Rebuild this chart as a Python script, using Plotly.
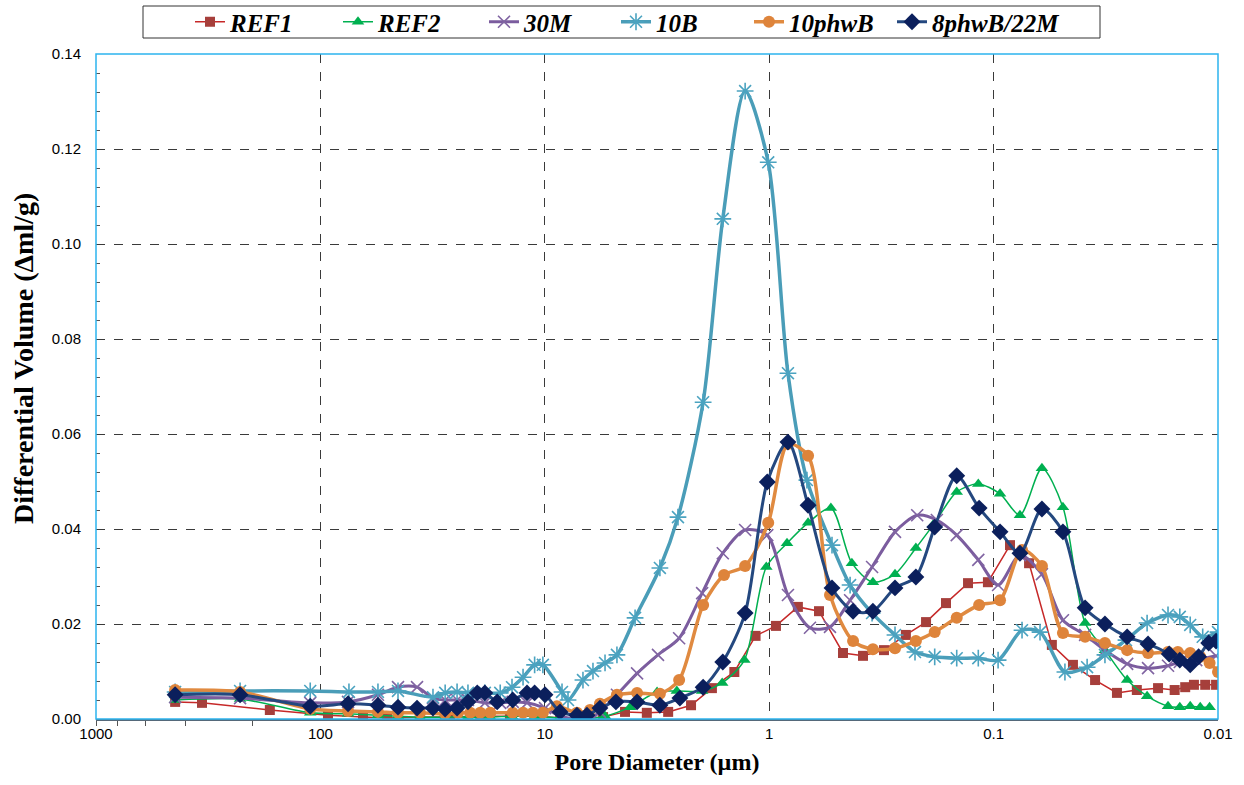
import plotly.graph_objects as go

# Pore diameter (um) and differential intrusion volume (ml/g) per mix
REF1_d = [444, 337, 168, 92.5, 64.6, 50.5, 36.0, 26.4, 19.4, 14.3, 10.5, 8.55, 6.97, 5.50, 4.39, 3.51, 2.82, 2.23, 1.80, 1.43,
          1.15, 0.933, 0.745, 0.600, 0.469, 0.382, 0.308, 0.246, 0.200, 0.163, 0.130, 0.106, 0.0845, 0.0695, 0.0550, 0.0443,
          0.0353, 0.0282, 0.0230, 0.0185, 0.0156, 0.0140, 0.0128, 0.0114, 0.0102]
REF1_v = [0.0036, 0.0034, 0.0019, 0.0008, 0.0004, 0.0002, 0.0004, 0.0004, 0.0006, 0.0006, 0.0006, 0.0002, 0.0000, 0.0004,
          0.0015, 0.0013, 0.0015, 0.0029, 0.0065, 0.0099, 0.0175, 0.0196, 0.0236, 0.0227, 0.0139, 0.0133, 0.0145, 0.0177,
          0.0204, 0.0244, 0.0286, 0.0288, 0.0366, 0.0328, 0.0156, 0.0114, 0.0082, 0.0055, 0.0061, 0.0065, 0.0061, 0.0067,
          0.0072, 0.0072, 0.0072]

REF2_d = [444, 228, 111, 75.3, 55.4, 45.1, 36.0, 27.8, 22.0, 17.5, 14.0, 11.1, 8.55, 6.97, 5.39, 4.17, 3.16, 2.58, 1.99, 1.62,
          1.29, 1.03, 0.833, 0.671, 0.531, 0.428, 0.345, 0.275, 0.222, 0.183, 0.146, 0.117, 0.0936, 0.0763, 0.0609, 0.0491,
          0.0391, 0.0319, 0.0254, 0.0207, 0.0167, 0.0148, 0.0133, 0.0120, 0.0109]
REF2_v = [0.0040, 0.0042, 0.0013, 0.0011, 0.0008, 0.0006, 0.0004, 0.0004, 0.0004, 0.0004, 0.0006, 0.0006, 0.0002, 0.0000,
          0.0006, 0.0025, 0.0057, 0.0059, 0.0059, 0.0076, 0.0124, 0.0320, 0.0370, 0.0413, 0.0444, 0.0328, 0.0288, 0.0305,
          0.0360, 0.0413, 0.0478, 0.0495, 0.0474, 0.0429, 0.0528, 0.0446, 0.0202, 0.0145, 0.0082, 0.0048, 0.0027, 0.0025,
          0.0027, 0.0025, 0.0025]

M30_d = [444, 228, 111, 75.3, 55.4, 45.1, 37.1, 31.5, 27.8, 24.6, 22.0, 18.5, 15.8, 13.9, 12.0, 9.98, 8.55, 7.19, 6.42, 5.68,
         4.77, 3.88, 3.13, 2.52, 1.99, 1.61, 1.28, 1.02, 0.825, 0.658, 0.536, 0.436, 0.348, 0.275, 0.219, 0.179, 0.146,
         0.117, 0.0955, 0.0763, 0.0609, 0.0491, 0.0391, 0.0319, 0.0254, 0.0205, 0.0167, 0.0148, 0.0125, 0.0102]
M30_v = [0.0046, 0.0044, 0.0034, 0.0036, 0.0051, 0.0067, 0.0067, 0.0044, 0.0040, 0.0040, 0.0040, 0.0034, 0.0034, 0.0036,
         0.0034, 0.0023, 0.0006, 0.0000, 0.0000, 0.0015, 0.0051, 0.0096, 0.0135, 0.0170, 0.0265, 0.0349, 0.0398, 0.0387,
         0.0261, 0.0192, 0.0194, 0.0250, 0.0320, 0.0394, 0.0429, 0.0419, 0.0387, 0.0335, 0.0282, 0.0345, 0.0305, 0.0208,
         0.0177, 0.0145, 0.0116, 0.0107, 0.0112, 0.0120, 0.0124, 0.0133]

B10_d = [444, 228, 111, 74.6, 55.4, 45.1, 31.5, 27.8, 24.6, 22.0, 18.5, 15.8, 14.0, 12.5, 11.1, 10.2, 8.38, 7.88, 6.76, 6.10,
         5.39, 4.77, 3.96, 3.07, 2.55, 1.97, 1.61, 1.28, 1.01, 0.825, 0.679, 0.525, 0.436, 0.348, 0.275, 0.224, 0.183,
         0.146, 0.117, 0.0955, 0.0747, 0.0621, 0.0481, 0.0383, 0.0319, 0.0257, 0.0207, 0.0167, 0.0148, 0.0133, 0.0117,
         0.0100]
B10_v = [0.0057, 0.0059, 0.0059, 0.0057, 0.0057, 0.0059, 0.0046, 0.0055, 0.0057, 0.0055, 0.0055, 0.0055, 0.0067, 0.0088,
         0.0114, 0.0114, 0.0057, 0.0040, 0.0082, 0.0101, 0.0118, 0.0135, 0.0213, 0.0318, 0.0425, 0.0667, 0.1053, 0.1322,
         0.1172, 0.0728, 0.0503, 0.0366, 0.0282, 0.0223, 0.0177, 0.0141, 0.0131, 0.0128, 0.0128, 0.0124, 0.0187, 0.0183,
         0.0099, 0.0109, 0.0135, 0.0166, 0.0202, 0.0219, 0.0215, 0.0198, 0.0173, 0.0183]

P10_d = [444, 228, 111, 75.3, 55.4, 45.1, 36.0, 27.8, 24.4, 21.5, 19.4, 17.5, 13.9, 12.5, 11.3, 10.2, 8.83, 7.19, 6.29, 5.68,
         4.77, 3.88, 3.07, 2.52, 1.97, 1.59, 1.28, 1.01, 0.825, 0.671, 0.536, 0.423, 0.345, 0.275, 0.222, 0.183, 0.146,
         0.116, 0.0936, 0.0747, 0.0609, 0.0491, 0.0391, 0.0319, 0.0254, 0.0205, 0.0167, 0.0151, 0.0133, 0.0120, 0.0109,
         0.0100]
P10_v = [0.0061, 0.0057, 0.0021, 0.0017, 0.0015, 0.0013, 0.0013, 0.0011, 0.0013, 0.0013, 0.0013, 0.0013, 0.0013, 0.0013,
         0.0013, 0.0013, 0.0027, 0.0013, 0.0019, 0.0032, 0.0051, 0.0055, 0.0053, 0.0082, 0.0240, 0.0303, 0.0322, 0.0413,
         0.0579, 0.0554, 0.0261, 0.0164, 0.0147, 0.0149, 0.0164, 0.0183, 0.0213, 0.0240, 0.0250, 0.0356, 0.0322, 0.0181,
         0.0173, 0.0160, 0.0145, 0.0139, 0.0141, 0.0141, 0.0139, 0.0131, 0.0118, 0.0099]

D8_d = [444, 228, 111, 75.3, 55.4, 45.1, 37.1, 31.5, 27.8, 24.6, 22.0, 20.0, 18.5, 16.3, 13.9, 12.0, 11.1, 9.98, 8.55, 7.19,
        6.49, 5.68, 4.82, 3.88, 3.07, 2.50, 1.97, 1.61, 1.28, 1.02, 0.825, 0.671, 0.525, 0.423, 0.345, 0.275, 0.222, 0.183,
        0.146, 0.116, 0.0936, 0.0763, 0.0609, 0.0491, 0.0391, 0.0319, 0.0254, 0.0205, 0.0165, 0.0148, 0.0133, 0.0122,
        0.0110, 0.0102]
D8_v = [0.0051, 0.0051, 0.0027, 0.0032, 0.0029, 0.0025, 0.0023, 0.0023, 0.0021, 0.0023, 0.0036, 0.0055, 0.0055, 0.0036,
        0.0040, 0.0055, 0.0055, 0.0051, 0.0015, 0.0008, 0.0008, 0.0023, 0.0036, 0.0036, 0.0029, 0.0044, 0.0067, 0.0120,
        0.0223, 0.0499, 0.0583, 0.0450, 0.0276, 0.0227, 0.0227, 0.0276, 0.0299, 0.0404, 0.0512, 0.0444, 0.0394, 0.0349,
        0.0442, 0.0394, 0.0234, 0.0200, 0.0173, 0.0158, 0.0137, 0.0124, 0.0114, 0.0131, 0.0160, 0.0164]

x_tick_vals = [1000, 100, 10, 1, 0.1, 0.01]
x_tick_text = ["1000", "100", "10", "1", "0.1", "0.01"]

series = [
    # name, x, y, line colour, line width, shape, marker symbol, marker size, marker colour
    ("REF1", REF1_d, REF1_v, "#C62828", 1.5, "linear", "square", 10, "#A63F3B"),
    ("REF2", REF2_d, REF2_v, "#00B050", 1.5, "spline", "triangle-up", 11, "#00B050"),
    ("30M", M30_d, M30_v, "#7B5C9E", 3, "spline", "x-thin-open", 12, "#8064A2"),
    ("10B", B10_d, B10_v, "#4A9DB8", 3.5, "spline", "asterisk-open", 14, "#4BA3C0"),
    ("10phwB", P10_d, P10_v, "#E08A40", 3.5, "spline", "circle", 12, "#DE843B"),
    ("8phwB/22M", D8_d, D8_v, "#24487F", 3, "spline", "diamond", 13, "#0B1F5C"),
]

# plot-area geometry (pixels) used to place the legend entries in one framed row
W, H = 1244, 785
L, R, T, B = 96, 26, 54, 66
PW, PH = W - L - R, H - T - B
legend_text_px = [232, 380, 526, 658, 791, 934]
legend_font = dict(family="Liberation Serif, Times New Roman, serif", size=25, color="black",
                   style="italic", weight="bold")
serif_bold = dict(family="Liberation Serif, Times New Roman, serif", weight="bold", color="black")


def px_to_paper_x(px):
    return (px - L) / PW


def px_to_paper_y(py):
    return (H - B - py) / PH


fig = go.Figure()
legend_layouts = {}
for i, (name, xs, ys, lc, lw, shape, sym, ms, mc) in enumerate(series):
    marker = dict(symbol=sym, size=ms, color=mc)
    if sym.endswith("-open"):
        marker["line"] = dict(color=mc, width=1.6)
    key = "legend" if i == 0 else f"legend{i + 1}"
    fig.add_trace(go.Scatter(
        x=xs, y=ys, name=name, mode="lines+markers",
        line=dict(color=lc, width=lw, shape=shape, smoothing=0.8 if shape == "spline" else None),
        marker=marker, legend=key,
    ))
    legend_layouts[key] = dict(
        orientation="h", x=px_to_paper_x(legend_text_px[i] - 42), xanchor="left",
        y=px_to_paper_y(22), yanchor="middle",
        bgcolor="rgba(0,0,0,0)", borderwidth=0, font=legend_font, itemwidth=30,
    )

fig.update_layout(
    width=W, height=H,
    margin=dict(l=L, r=R, t=T, b=B, autoexpand=False),
    paper_bgcolor="white", plot_bgcolor="white",
    font=dict(family="Liberation Sans, Arial, sans-serif", size=15, color="black"),
    showlegend=True,
    **legend_layouts,
)

fig.update_xaxes(
    type="log", range=[3, -2],
    tickvals=x_tick_vals, ticktext=x_tick_text,
    showgrid=True, gridcolor="#3a3a3a", griddash="dash", gridwidth=1,
    ticks="", showline=True, linecolor="#55697a", linewidth=1.5,
    minor=dict(ticks="outside", ticklen=5, tickcolor="#555555", showgrid=False),
    title=dict(text="Pore Diameter (µm)", standoff=12, font=dict(size=24, **serif_bold)),
    tickfont=dict(size=15),
)
fig.update_yaxes(
    range=[0, 0.14], dtick=0.02, tickformat=".2f",
    showgrid=True, gridcolor="#3a3a3a", griddash="dash", gridwidth=1,
    ticks="", showline=False, zeroline=False,
    minor=dict(ticks="inside", ticklen=4, dtick=0.004, tickcolor="#555555", showgrid=False),
    ticklabelstandoff=14,
    tickfont=dict(size=15),
)

# vertical axis title, placed as a rotated annotation
fig.add_annotation(
    text="Differential Volume (Δml/g)", textangle=-90, showarrow=False,
    xref="paper", yref="paper", x=px_to_paper_x(23), y=px_to_paper_y(359),
    xanchor="center", yanchor="middle", font=dict(size=28, **serif_bold),
)

# light blue frame around the plotting area
fig.add_shape(type="rect", xref="paper", yref="paper", x0=0, y0=0, x1=1, y1=1,
              line=dict(color="#2DB4EE", width=1.5), layer="above")

# frame enclosing the legend row
fig.add_shape(type="rect", xref="paper", yref="paper",
              x0=px_to_paper_x(143), x1=px_to_paper_x(1100),
              y0=px_to_paper_y(38), y1=px_to_paper_y(6),
              line=dict(color="#333333", width=1), fillcolor="rgba(0,0,0,0)", layer="above")

fig.write_html("out.html")
